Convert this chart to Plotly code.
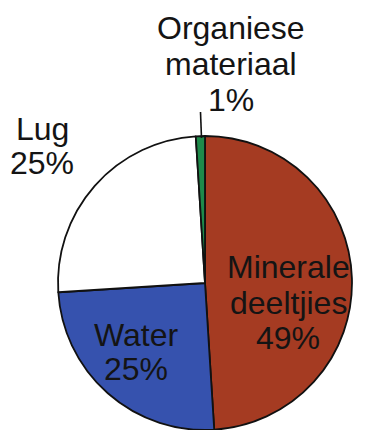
import plotly.graph_objects as go

labels = ["Minerale deeltjies", "Water", "Lug", "Organiese materiaal"]
label_lines = [["Minerale", "deeltjies"], ["Water"], ["Lug"], ["Organiese", "materiaal"]]
values = [49, 25, 25, 1]
colors = ["#A53B22", "#3652AE", "#FFFFFF", "#1E8A4A"]

W, H = 369, 430
FONT = "Liberation Sans, Arial, sans-serif"
FS = 32

fig = go.Figure(go.Pie(
    labels=labels,
    values=values,
    sort=False,
    direction="clockwise",
    rotation=0,
    textinfo="none",
    hoverinfo="label+percent",
    marker=dict(colors=colors, line=dict(color="#111111", width=1.8)),
    domain=dict(x=[58 / W, 352 / W], y=[0, 294 / H]),
    showlegend=False,
))

# label block positions in pixels: center x, center y of first line, line step
label_pos = [(288, 267, 35.5), (136, 335, 34), (42, 129, 34), (231, 28, 36)]
anns = []
for lines, v, (px, py, step) in zip(label_lines, values, label_pos):
    for i, line in enumerate(lines + [f"{v}%"]):
        anns.append(dict(
            x=px / W, y=1 - (py + i * step) / H, xref="paper", yref="paper",
            text=line, showarrow=False, xanchor="center", yanchor="middle",
            font=dict(family=FONT, size=FS, color="#141414"),
        ))

fig.update_layout(
    width=W, height=H,
    margin=dict(l=0, r=0, t=0, b=0),
    paper_bgcolor="white", plot_bgcolor="white",
    annotations=anns,
    shapes=[dict(type="line", xref="paper", yref="paper",
                 x0=200.5 / W, y0=1 - 112 / H, x1=201.5 / W, y1=1 - 138 / H,
                 line=dict(color="#111111", width=1.6))],
)

fig.write_html("out.html")
